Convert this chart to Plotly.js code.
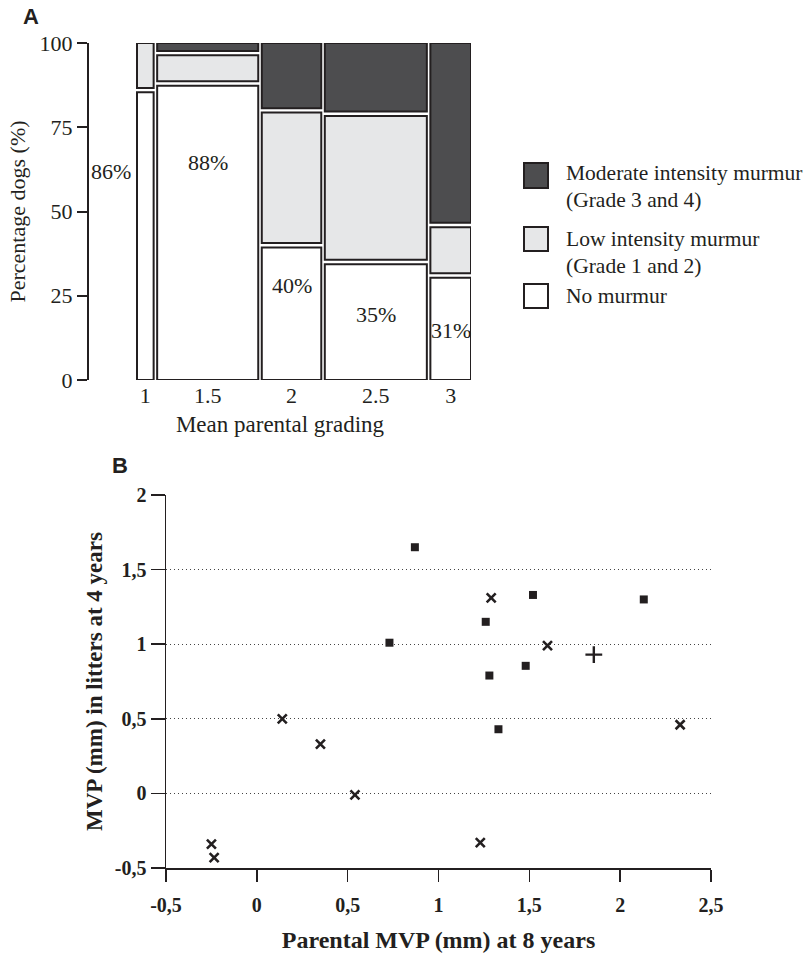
<!DOCTYPE html>
<html>
<head>
<meta charset="utf-8">
<script src="https://cdn.plot.ly/plotly-3.0.1.min.js"></script>
<style>html,body{margin:0;padding:0;background:#fff;} #chart{width:807px;height:953px;}</style>
</head>
<body>
<div id="chart"></div>
<script>
// ---------- Panel A data ----------
const grades = ['1', '1.5', '2', '2.5', '3'];
const colShare = [5.2, 31.6, 18.6, 31.9, 12.7];      // share of dogs per grade (column widths)
const noMurmur = [86, 88, 40, 35, 31];
const lowMurmur = [14, 9, 40, 44, 15];
const modMurmur = [0, 3, 20, 21, 54];
const pctLabels = ['86%', '88%', '40%', '35%', '31%'];
const labelY = [62, 64.5, 28, 19.5, 14.8];

// ---------- Panel B data ----------
const squaresX = [0.87, 0.73, 1.52, 1.26, 2.13, 1.48, 1.28, 1.33];
const squaresY = [1.65, 1.01, 1.33, 1.15, 1.30, 0.855, 0.79, 0.43];
const crossesX = [1.29, 1.60, 0.14, 0.35, 0.54, -0.25, -0.235, 1.23, 2.33];
const crossesY = [1.31, 0.99, 0.50, 0.33, -0.01, -0.34, -0.43, -0.33, 0.46];
const plusX = [1.855];
const plusY = [0.93];
const bTickVals = [-0.5, 0, 0.5, 1, 1.5, 2, 2.5];
const bTickText = ['-0,5', '0', '0,5', '1', '1,5', '2', '2,5'];
const bYTickVals = [-0.5, 0, 0.5, 1, 1.5, 2];
const bYTickText = ['-0,5', '0', '0,5', '1', '1,5', '2'];

// ---------- helpers ----------
const W = 807, H = 953;
const px = v => v / W;
const py = v => 1 - v / H;
const INK = '#231f20';
const DARK = '#4d4d4f';
const LIGHT = '#e6e7e8';
const SERIF = 'Liberation Serif';
const SANS = 'Liberation Sans';

const colGap = 1.1, segGap = 0.65;
const centers = [];
let s = 0;
colShare.forEach(w => { centers.push(s + w / 2); s += w + colGap; });
const totalX = s - colGap;

function segTrace(vals, bases, color, name) {
  const b = [], h = [];
  vals.forEach((v, i) => {
    if (v <= 0) { b.push(null); h.push(null); return; }
    const lo = bases[i], hi = bases[i] + v;
    const bb = lo > 0 ? lo + segGap : lo;
    const tt = hi < 100 ? hi - segGap : hi;
    b.push(bb); h.push(tt - bb);
  });
  return {
    type: 'bar', name: name, x: centers, y: h, base: b, width: colShare,
    xaxis: 'x', yaxis: 'y',
    marker: {color: color, line: {color: INK, width: 2}},
    hoverinfo: 'skip', showlegend: false
  };
}
const base0 = noMurmur.map(() => 0);
const base1 = noMurmur.slice();
const base2 = noMurmur.map((v, i) => v + lowMurmur[i]);

const traces = [
  segTrace(noMurmur, base0, '#ffffff', 'No murmur'),
  segTrace(lowMurmur, base1, LIGHT, 'Low intensity murmur'),
  segTrace(modMurmur, base2, DARK, 'Moderate intensity murmur'),
  {type: 'scatter', mode: 'markers', x: squaresX, y: squaresY, xaxis: 'x2', yaxis: 'y2',
   marker: {symbol: 'square', size: 8, color: INK}, showlegend: false, hoverinfo: 'skip'},
  {type: 'scatter', mode: 'markers', x: crossesX, y: crossesY, xaxis: 'x2', yaxis: 'y2',
   marker: {symbol: 'x-thin', size: 9, color: INK, line: {color: INK, width: 2.6}}, showlegend: false, hoverinfo: 'skip'},
  {type: 'scatter', mode: 'markers', x: plusX, y: plusY, xaxis: 'x2', yaxis: 'y2',
   marker: {symbol: 'cross-thin', size: 12, color: INK, line: {color: INK, width: 2.4}}, showlegend: false, hoverinfo: 'skip'}
];

// x range of panel A: axis line sits left of the first column
const pxPerUnit = (471 - 137) / totalX;
const xStart = -(137 - 89) / pxPerUnit;

const annotations = [];
pctLabels.forEach((t, i) => {
  annotations.push(i === 0 ?
    {xref: 'x', yref: 'y', x: centers[0] - colShare[0] / 2, y: labelY[i], text: t, showarrow: false,
     xanchor: 'right', xshift: -4, font: {family: SERIF, size: 22, color: INK}} :
    {xref: 'x', yref: 'y', x: centers[i], y: labelY[i], text: t, showarrow: false,
     font: {family: SERIF, size: 22, color: INK}});
});
// legend texts
const legendLines = [
  ['Moderate intensity murmur', 173], ['(Grade 3 and 4)', 200],
  ['Low intensity murmur', 239], ['(Grade 1 and 2)', 266],
  ['No murmur', 296]
];
legendLines.forEach(([t, y]) => annotations.push({
  xref: 'paper', yref: 'paper', x: px(564), y: py(y), xanchor: 'left', yanchor: 'middle',
  text: t, showarrow: false, font: {family: SERIF, size: 21.5, color: INK}
}));
annotations.push({xref: 'paper', yref: 'paper', x: px(31), y: py(16), text: '<b>A</b>', showarrow: false,
  xanchor: 'center', yanchor: 'middle', font: {family: SANS, size: 22, color: INK}});
annotations.push({xref: 'paper', yref: 'paper', x: px(120), y: py(466), text: '<b>B</b>', showarrow: false,
  xanchor: 'center', yanchor: 'middle', font: {family: SANS, size: 22, color: INK}});

const legendBoxes = [[163, 188, DARK], [227, 251, LIGHT], [284, 308, '#ffffff']];
const shapes = legendBoxes.map(([y0, y1, c]) => ({
  type: 'rect', xref: 'paper', yref: 'paper', x0: px(524), x1: px(548), y0: py(y1), y1: py(y0),
  fillcolor: c, line: {color: INK, width: 2}
}));

const bold = arr => arr.map(t => '<b>' + t + '</b>');

const layout = {
  width: W, height: H,
  margin: {l: 0, r: 0, t: 0, b: 0},
  paper_bgcolor: '#fff', plot_bgcolor: 'rgba(0,0,0,0)',
  barmode: 'overlay',
  showlegend: false,
  font: {family: SERIF, color: INK},
  xaxis: {
    domain: [px(89), px(471)], range: [xStart, totalX], anchor: 'y',
    showline: false, showgrid: false, zeroline: false, ticks: '',
    tickvals: centers, ticktext: grades, tickfont: {family: SERIF, size: 22, color: INK},
    title: {text: 'Mean parental grading', font: {family: SERIF, size: 23, color: INK}, standoff: 8},
    automargin: false, fixedrange: true
  },
  yaxis: {
    domain: [py(380), py(43)], range: [0, 100], anchor: 'x',
    showline: true, linecolor: INK, linewidth: 2, showgrid: false, zeroline: false,
    ticks: 'outside', ticklen: 10, tickwidth: 2, tickcolor: INK,
    tickvals: [0, 25, 50, 75, 100], tickfont: {family: SERIF, size: 22, color: INK},
    title: {text: 'Percentage dogs (%)', font: {family: SERIF, size: 22, color: INK}, standoff: 8},
    automargin: false, fixedrange: true
  },
  xaxis2: {
    domain: [px(166), px(711)], range: [-0.5, 2.5], anchor: 'y2',
    showline: true, linecolor: INK, linewidth: 1.5, showgrid: false, zeroline: false,
    ticks: 'outside', ticklen: 12, tickwidth: 1.5, tickcolor: INK,
    tickvals: bTickVals, ticktext: bold(bTickText), ticklabelstandoff: 6,
    tickfont: {family: SERIF, size: 20, color: INK, weight: 'bold'},
    title: {text: '<b>Parental MVP (mm) at 8 years</b>', font: {family: SERIF, size: 24, color: INK}, standoff: 16},
    automargin: false, fixedrange: true
  },
  yaxis2: {
    domain: [py(868), py(495)], range: [-0.5, 2], anchor: 'x2',
    showline: true, linecolor: INK, linewidth: 1.5, zeroline: false,
    showgrid: true, gridcolor: '#444', griddash: '1px,3px', gridwidth: 1,
    ticks: 'outside', ticklen: 14, tickwidth: 1.5, tickcolor: INK,
    tickvals: bYTickVals, ticktext: bold(bYTickText),
    tickfont: {family: SERIF, size: 20, color: INK, weight: 'bold'},
    title: {text: '<b>MVP (mm) in litters at 4 years</b>', font: {family: SERIF, size: 23, color: INK}, standoff: 6},
    automargin: false, fixedrange: true
  },
  annotations: annotations,
  shapes: shapes
};

Plotly.newPlot('chart', traces, layout, {staticPlot: true, displayModeBar: false});
</script>
</body>
</html>
